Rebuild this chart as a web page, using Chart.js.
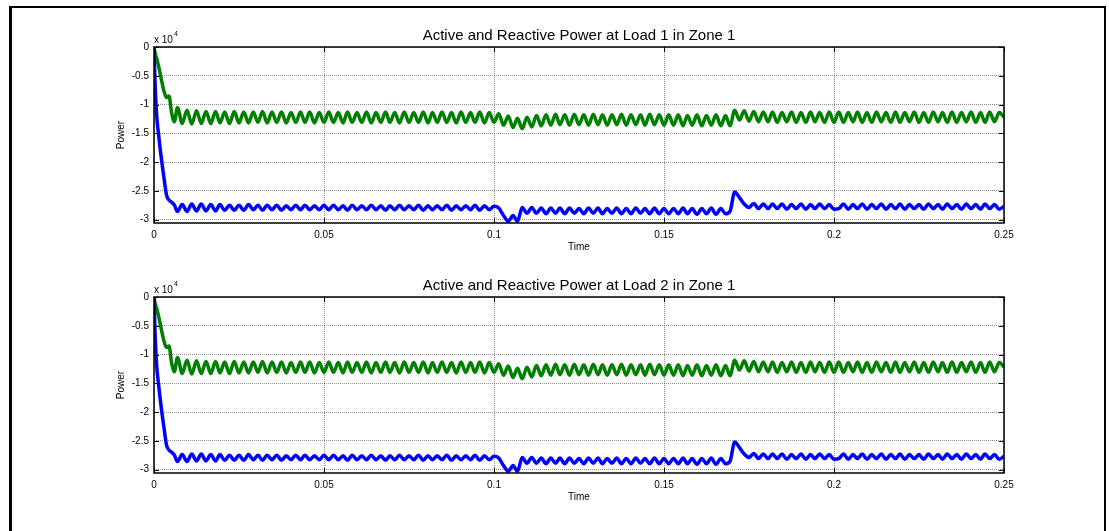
<!DOCTYPE html>
<html>
<head>
<meta charset="utf-8">
<script src="https://cdn.jsdelivr.net/npm/chart.js@4/dist/chart.umd.min.js"></script>
<style>
  html, body { margin: 0; padding: 0; background: #fff; overflow: hidden; }
  body { width: 1109px; height: 531px; position: relative; }
  .frame { position: absolute; left: 9px; top: 6px; width: 1092px; height: 600px;
    border-left: 3px solid #000; border-top: 2px solid #000; border-right: 2px solid #000; }
  canvas { position: absolute; left: 0; }
</style>
</head>
<body>
<div class="frame"></div>
<canvas id="load1" width="1109" height="250" style="top:0"></canvas>
<canvas id="load2" width="1109" height="250" style="top:250px"></canvas>
<script>
// sample times (s)
const timeS = [
  0, 0.0003, 0.0008, 0.0013, 0.0023, 0.0030, 0.0037, 0.0044, 0.0052, 0.0060,
  0.0069, 0.0083, 0.0097, 0.0111, 0.0125, 0.0139, 0.0153, 0.0167, 0.0181, 0.0194,
  0.0208, 0.0222, 0.0236, 0.0250, 0.0264, 0.0278, 0.0292, 0.0306, 0.0319, 0.0333,
  0.0347, 0.0361, 0.0375, 0.0389, 0.0403, 0.0417, 0.0431, 0.0444, 0.0458, 0.0472,
  0.0486, 0.0500,
  0.0514, 0.0528, 0.0542, 0.0556, 0.0569, 0.0583, 0.0597, 0.0611, 0.0625, 0.0639,
  0.0653, 0.0667, 0.0681, 0.0694, 0.0708, 0.0722, 0.0736, 0.0750, 0.0764, 0.0778,
  0.0792, 0.0806, 0.0819, 0.0833, 0.0847, 0.0861, 0.0875, 0.0889, 0.0903, 0.0917,
  0.0931, 0.0944, 0.0958, 0.0972, 0.0986, 0.1000,
  0.1014, 0.1028, 0.1042, 0.1056, 0.1069, 0.1083, 0.1097, 0.1111, 0.1125, 0.1139,
  0.1153, 0.1167, 0.1181, 0.1194, 0.1208, 0.1222, 0.1236, 0.1250, 0.1264, 0.1278,
  0.1292, 0.1306, 0.1319, 0.1333, 0.1347, 0.1361, 0.1375, 0.1389, 0.1403, 0.1417,
  0.1431, 0.1444, 0.1458, 0.1472, 0.1486, 0.1500,
  0.1514, 0.1528, 0.1542, 0.1556, 0.1569, 0.1583, 0.1597, 0.1611, 0.1625, 0.1639,
  0.1653, 0.1667, 0.1681, 0.1694, 0.1708, 0.1722, 0.1736, 0.1750, 0.1764, 0.1778,
  0.1792, 0.1806, 0.1819, 0.1833, 0.1847, 0.1861, 0.1875, 0.1889, 0.1903, 0.1917,
  0.1931, 0.1944, 0.1958, 0.1972, 0.1986, 0.2000,
  0.2014, 0.2028, 0.2042, 0.2056, 0.2069, 0.2083, 0.2097, 0.2111, 0.2125, 0.2139,
  0.2153, 0.2167, 0.2181, 0.2194, 0.2208, 0.2222, 0.2236, 0.2250, 0.2264, 0.2278,
  0.2292, 0.2306, 0.2319, 0.2333, 0.2347, 0.2361, 0.2375, 0.2389, 0.2403, 0.2417,
  0.2431, 0.2444, 0.2458, 0.2472, 0.2486, 0.2500
];

// active power, x 10^4 (blue)
const activePower = [
  0, -0.6, -1.2, -1.5, -2.0, -2.3, -2.58, -2.66, -2.70, -2.75,
  -2.86, -2.74, -2.86, -2.73, -2.85, -2.73, -2.85, -2.74, -2.85, -2.74,
  -2.84, -2.75, -2.84, -2.75, -2.84, -2.74, -2.83, -2.75, -2.84, -2.75,
  -2.83, -2.75, -2.84, -2.76, -2.83, -2.75, -2.83, -2.75, -2.83, -2.76,
  -2.83, -2.75,
  -2.83, -2.75, -2.83, -2.76, -2.84, -2.75, -2.83, -2.76, -2.83, -2.75,
  -2.83, -2.76, -2.84, -2.76, -2.83, -2.75, -2.83, -2.76, -2.83, -2.75,
  -2.84, -2.76, -2.83, -2.76, -2.83, -2.75, -2.84, -2.76, -2.83, -2.76,
  -2.83, -2.75, -2.84, -2.76, -2.83, -2.77,
  -2.80, -2.93, -3.03, -2.93, -3.03, -2.79, -2.89, -2.79, -2.89, -2.80,
  -2.90, -2.80, -2.89, -2.80, -2.90, -2.80, -2.89, -2.81, -2.90, -2.80,
  -2.89, -2.80, -2.90, -2.81, -2.89, -2.80, -2.90, -2.81, -2.90, -2.80,
  -2.89, -2.81, -2.90, -2.80, -2.90, -2.81,
  -2.90, -2.81, -2.90, -2.80, -2.90, -2.81, -2.91, -2.81, -2.90, -2.80,
  -2.91, -2.81, -2.90, -2.86, -2.52, -2.62, -2.73, -2.79, -2.72, -2.81,
  -2.73, -2.81, -2.73, -2.81, -2.73, -2.82, -2.74, -2.81, -2.73, -2.82,
  -2.74, -2.81, -2.73, -2.81, -2.74, -2.82,
  -2.81, -2.73, -2.82, -2.74, -2.81, -2.73, -2.82, -2.74, -2.81, -2.73,
  -2.82, -2.74, -2.81, -2.73, -2.82, -2.74, -2.81, -2.74, -2.82, -2.73,
  -2.81, -2.74, -2.82, -2.73, -2.81, -2.74, -2.82, -2.73, -2.81, -2.74,
  -2.82, -2.73, -2.81, -2.74, -2.82, -2.77
];

// reactive power, x 10^4 (green)
const reactivePower = [
  0, -0.1, -0.2, -0.32, -0.6, -0.78, -0.88, -0.85, -1.15, -1.30,
  -1.05, -1.33, -1.10, -1.34, -1.11, -1.33, -1.12, -1.33, -1.12, -1.32,
  -1.13, -1.33, -1.12, -1.32, -1.13, -1.32, -1.13, -1.31, -1.12, -1.32,
  -1.13, -1.31, -1.13, -1.32, -1.14, -1.31, -1.13, -1.31, -1.13, -1.32,
  -1.14, -1.31,
  -1.13, -1.31, -1.14, -1.32, -1.13, -1.31, -1.14, -1.31, -1.13, -1.32,
  -1.14, -1.31, -1.13, -1.31, -1.14, -1.32, -1.13, -1.31, -1.14, -1.31,
  -1.13, -1.32, -1.14, -1.31, -1.13, -1.31, -1.14, -1.32, -1.13, -1.31,
  -1.14, -1.31, -1.13, -1.32, -1.14, -1.31,
  -1.16, -1.36, -1.20, -1.40, -1.24, -1.42, -1.22, -1.39, -1.19, -1.37,
  -1.18, -1.36, -1.17, -1.35, -1.18, -1.36, -1.17, -1.35, -1.18, -1.36,
  -1.17, -1.35, -1.18, -1.36, -1.18, -1.35, -1.17, -1.36, -1.18, -1.35,
  -1.18, -1.36, -1.17, -1.35, -1.18, -1.36,
  -1.18, -1.36, -1.18, -1.37, -1.19, -1.36, -1.18, -1.37, -1.19, -1.36,
  -1.18, -1.37, -1.19, -1.37, -1.10, -1.27, -1.11, -1.29, -1.12, -1.30,
  -1.13, -1.30, -1.13, -1.31, -1.14, -1.30, -1.13, -1.31, -1.14, -1.31,
  -1.13, -1.30, -1.14, -1.31, -1.13, -1.31,
  -1.13, -1.31, -1.14, -1.30, -1.13, -1.31, -1.14, -1.31, -1.13, -1.30,
  -1.14, -1.31, -1.13, -1.31, -1.14, -1.30, -1.13, -1.31, -1.14, -1.31,
  -1.13, -1.30, -1.14, -1.31, -1.13, -1.31, -1.14, -1.30, -1.13, -1.31,
  -1.14, -1.31, -1.13, -1.30, -1.14, -1.22
];

const timeTicks = [0, 0.05, 0.1, 0.15, 0.2, 0.25];
const powerTicks = [0, -0.5, -1, -1.5, -2, -2.5, -3];
const chartTitles = ['Active and Reactive Power at Load 1 in Zone 1',
                     'Active and Reactive Power at Load 2 in Zone 1'];

const fontFamily = '"Liberation Sans", Arial, sans-serif';
const tickFont = { family: fontFamily, size: 10 };
const gridColor = 'rgba(0, 0, 0, 0.45)';

// axes box, inward ticks, title and the exponent label
const matlabAxes = {
  id: 'matlabAxes',
  afterDraw(chart, args, opts) {
    const { ctx, chartArea: a, scales } = chart;
    ctx.save();
    ctx.strokeStyle = '#000';
    ctx.lineWidth = 1;
    ctx.beginPath();
    timeTicks.forEach(v => {
      const px = Math.round(scales.x.getPixelForValue(v)) + 0.5;
      ctx.moveTo(px, a.bottom); ctx.lineTo(px, a.bottom - 5);
      ctx.moveTo(px, a.top); ctx.lineTo(px, a.top + 5);
    });
    powerTicks.forEach(v => {
      const py = Math.round(scales.y.getPixelForValue(v)) + 0.5;
      ctx.moveTo(a.left, py); ctx.lineTo(a.left + 5, py);
      ctx.moveTo(a.right, py); ctx.lineTo(a.right - 5, py);
    });
    ctx.stroke();
    ctx.lineWidth = 1.5;
    ctx.strokeRect(a.left, a.top, a.right - a.left, a.bottom - a.top);

    ctx.fillStyle = '#000';
    ctx.textBaseline = 'alphabetic';
    ctx.textAlign = 'center';
    ctx.font = '15px ' + fontFamily;
    ctx.fillText(opts.title, (a.left + a.right) / 2, a.top - 7);
    ctx.textAlign = 'left';
    ctx.font = '10px ' + fontFamily;
    ctx.fillText('x 10', a.left, a.top - 4);
    const w = ctx.measureText('x 10').width;
    ctx.font = '7px ' + fontFamily;
    ctx.fillText('4', a.left + w + 1, a.top - 11);
    ctx.restore();
  }
};

function makeChart(id, title) {
  const line = { pointRadius: 0, borderWidth: 3.5, cubicInterpolationMode: 'monotone' };
  return new Chart(document.getElementById(id).getContext('2d'), {
    type: 'line',
    data: {
      datasets: [{
        ...line,
        data: timeS.map((t, i) => ({ x: t, y: activePower[i] })),
        borderColor: '#0000ff'
      }, {
        ...line,
        data: timeS.map((t, i) => ({ x: t, y: reactivePower[i] })),
        borderColor: '#008000'
      }]
    },
    options: {
      responsive: false,
      animation: false,
      events: [],
      layout: { padding: { left: 100, right: 105, top: 47, bottom: 0 } },
      plugins: {
        legend: { display: false },
        tooltip: { enabled: false },
        matlabAxes: { title: title }
      },
      scales: {
        x: {
          type: 'linear', min: 0, max: 0.25,
          afterBuildTicks: s => { s.ticks = timeTicks.map(v => ({ value: v })); },
          afterFit: s => { s.height = 27; },
          grid: { color: gridColor, drawTicks: false },
          border: { display: false, dash: [1, 1] },
          ticks: { padding: 6, color: '#000', font: tickFont, maxRotation: 0,
                   autoSkip: false, callback: v => String(v) },
          title: { display: true, text: 'Time', color: '#000', font: tickFont,
                   padding: { top: 0, bottom: -3 } }
        },
        y: {
          type: 'linear', min: -3.06, max: 0,
          afterBuildTicks: s => { s.ticks = powerTicks.map(v => ({ value: v })); },
          afterFit: s => { s.width = 54; },
          grid: { color: gridColor, drawTicks: false },
          border: { display: false, dash: [1, 1] },
          ticks: { padding: 5, color: '#000', font: tickFont, autoSkip: false,
                   callback: v => String(v) },
          title: { display: true, text: 'Power', color: '#000', font: tickFont,
                   padding: { top: 15, bottom: 0 } }
        }
      }
    },
    plugins: [matlabAxes]
  });
}

makeChart('load1', chartTitles[0]);
makeChart('load2', chartTitles[1]);
</script>
</body>
</html>
